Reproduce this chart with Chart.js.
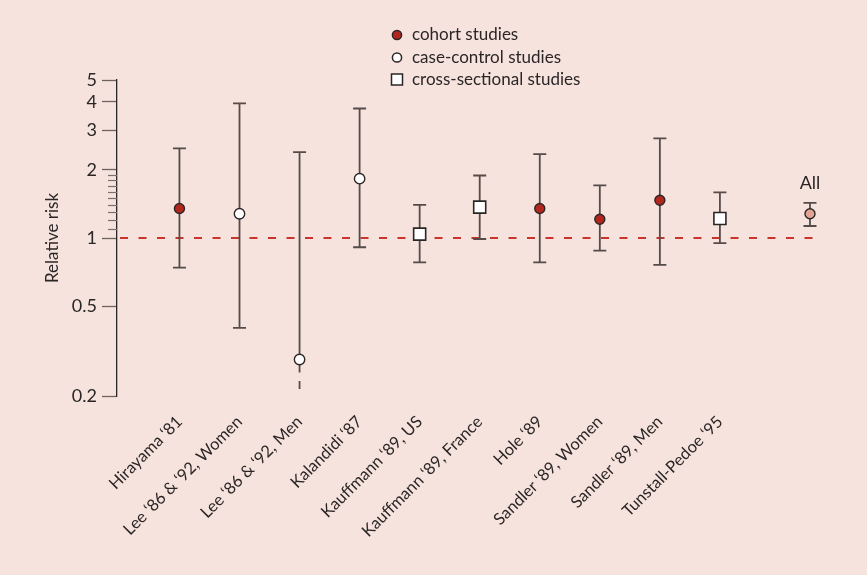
<!DOCTYPE html>
<html>
<head>
<meta charset="utf-8">
<script src="https://cdn.jsdelivr.net/npm/chart.js@4"></script>
<style>
  html, body { margin: 0; padding: 0; background: #f6e3dd; }
  #wrap { width: 867px; height: 575px; }
</style>
</head>
<body>
<div id="wrap"><canvas id="rrChart" width="867" height="575"></canvas></div>
<script>
// study names, in order along the x axis
const studies = [
  "Hirayama \u201881", "Lee \u201886 & \u201892, Women", "Lee \u201886 & \u201892, Men",
  "Kalandidi \u201887", "Kauffmann \u201889, US", "Kauffmann \u201889, France",
  "Hole \u201889", "Sandler \u201889, Women", "Sandler \u201889, Men", "Tunstall-Pedoe \u201895"
];
const studyType = ["cohort", "case", "case", "case", "cross", "cross", "cohort", "cohort", "cohort", "cross"];
const riskValues = [1.35, 1.28, 0.29, 1.83, 1.04, 1.37, 1.35, 1.21, 1.47, 1.22];
const riskUpper  = [2.49, 3.94, 2.40, 3.74, 1.40, 1.89, 2.35, 1.71, 2.76, 1.59];
const riskLower  = [0.74, 0.40, 0.215, 0.91, 0.78, 0.99, 0.78, 0.88, 0.76, 0.95];

// pooled estimate
const allPos = 11.5;
const allValue = 1.28;
const allUpper = 1.43;
const allLower = 1.13;

const yTicks = [0.2, 0.5, 1, 2, 3, 4, 5];
const yMinorTicks = [1.1, 1.2, 1.3, 1.4, 1.5, 1.6, 1.7, 1.8, 1.9];

const legendLabels = ["cohort studies", "case-control studies", "cross-sectional studies"];

const FONT = "Lato, 'Open Sans', sans-serif";
const INK = '#2b2626';
const BAR = '#564b4b';

function pointsOf(type) {
  const pts = [];
  studies.forEach((s, i) => {
    if (studyType[i] === type) {
      pts.push({ x: i + 1, y: riskValues[i], lo: riskLower[i], hi: riskUpper[i], broken: i === 2 });
    }
  });
  return pts;
}

// error bars, reference line, minor ticks, legend, "All" label
const extras = {
  id: 'extras',
  beforeDatasetsDraw(chart) {
    const { ctx, chartArea, scales: { x, y } } = chart;
    ctx.save();

    // dashed line at RR = 1
    ctx.strokeStyle = '#c9352c';
    ctx.lineWidth = 2;
    ctx.setLineDash([8, 10.5]);
    ctx.beginPath();
    ctx.moveTo(chartArea.left + 3, y.getPixelForValue(1));
    ctx.lineTo(chartArea.right, y.getPixelForValue(1));
    ctx.stroke();
    ctx.setLineDash([]);

    // minor ticks on y axis
    ctx.strokeStyle = '#7a6e6e';
    ctx.lineWidth = 1.2;
    yMinorTicks.forEach(v => {
      const py = Math.round(y.getPixelForValue(v)) + 0.5;
      ctx.beginPath();
      ctx.moveTo(chartArea.left - 9, py);
      ctx.lineTo(chartArea.left, py);
      ctx.stroke();
    });

    // whiskers
    ctx.strokeStyle = BAR;
    ctx.lineWidth = 1.8;
    chart.data.datasets.forEach(ds => {
      ds.data.forEach(p => {
        const px = x.getPixelForValue(p.x);
        const pHi = y.getPixelForValue(p.hi);
        const pLo = y.getPixelForValue(p.lo);
        const pMid = y.getPixelForValue(p.y);
        ctx.beginPath();
        ctx.moveTo(px, pHi);
        ctx.lineTo(px, pMid);
        ctx.moveTo(px - 6.5, pHi);
        ctx.lineTo(px + 6.5, pHi);
        if (p.broken) {
          ctx.moveTo(px, pMid);
          ctx.lineTo(px, pMid + 13);
          ctx.moveTo(px, pLo - 8);
          ctx.lineTo(px, pLo);
        } else {
          ctx.moveTo(px, pMid);
          ctx.lineTo(px, pLo);
          ctx.moveTo(px - 6.5, pLo);
          ctx.lineTo(px + 6.5, pLo);
        }
        ctx.stroke();
      });
    });
    ctx.restore();
  },
  afterDraw(chart) {
    const { ctx, scales: { x, y } } = chart;
    ctx.save();

    // "All" label
    ctx.fillStyle = INK;
    ctx.font = '18px ' + FONT;
    ctx.textAlign = 'center';
    ctx.textBaseline = 'middle';
    ctx.fillText('All', x.getPixelForValue(allPos), y.getPixelForValue(allUpper) - 20);

    // legend
    const lx = 397, ly = [35, 57.5, 79.5];
    ctx.lineWidth = 1.5;
    ctx.strokeStyle = INK;

    ctx.fillStyle = '#b3261e';
    ctx.beginPath(); ctx.arc(lx, ly[0], 4.6, 0, Math.PI * 2); ctx.fill(); ctx.stroke();
    ctx.fillStyle = '#ffffff';
    ctx.beginPath(); ctx.arc(lx, ly[1], 4.6, 0, Math.PI * 2); ctx.fill(); ctx.stroke();
    ctx.fillRect(lx - 5.5, ly[2] - 5.5, 11, 11);
    ctx.strokeRect(lx - 5.5, ly[2] - 5.5, 11, 11);

    ctx.fillStyle = INK;
    ctx.font = '17px ' + FONT;
    ctx.textAlign = 'left';
    legendLabels.forEach((t, i) => ctx.fillText(t, 412, ly[i]));
    ctx.restore();
  }
};

const ctx = document.getElementById('rrChart').getContext('2d');
new Chart(ctx, {
  type: 'scatter',
  data: {
    datasets: [
      {
        label: 'cohort studies',
        data: pointsOf('cohort'),
        pointStyle: 'circle',
        pointRadius: 5,
        backgroundColor: '#b3261e',
        borderColor: INK,
        borderWidth: 1.4
      },
      {
        label: 'case-control studies',
        data: pointsOf('case'),
        pointStyle: 'circle',
        pointRadius: 5.2,
        backgroundColor: '#ffffff',
        borderColor: INK,
        borderWidth: 1.4
      },
      {
        label: 'cross-sectional studies',
        data: pointsOf('cross'),
        pointStyle: 'rect',
        pointRadius: 8.5,
        backgroundColor: '#ffffff',
        borderColor: INK,
        borderWidth: 1.6
      },
      {
        label: 'All',
        data: [{ x: allPos, y: allValue, lo: allLower, hi: allUpper }],
        pointStyle: 'circle',
        pointRadius: 5,
        backgroundColor: '#e2a593',
        borderColor: INK,
        borderWidth: 1.4
      }
    ]
  },
  options: {
    responsive: false,
    animation: false,
    layout: { padding: { top: 80, right: 48, left: 42, bottom: 0 } },
    plugins: {
      legend: { display: false },
      tooltip: { enabled: false }
    },
    scales: {
      x: {
        type: 'linear',
        min: -0.04,
        max: 11.65,
        border: { display: false },
        grid: { display: false, drawTicks: false },
        afterBuildTicks: scale => {
          scale.ticks = studies.map((s, i) => ({ value: i + 1 }));
        },
        afterFit: scale => { scale.height = 179; },
        ticks: {
          autoSkip: false,
          minRotation: 45,
          maxRotation: 45,
          padding: 16,
          color: INK,
          font: { family: FONT, size: 16.5 },
          callback: v => studies[v - 1] || ''
        }
      },
      y: {
        type: 'logarithmic',
        min: 0.2,
        max: 5,
        border: { display: true, color: INK, width: 1.3 },
        grid: {
          drawOnChartArea: false,
          drawTicks: true,
          tickLength: 15,
          tickColor: '#6e6262',
          tickWidth: 1.3
        },
        afterBuildTicks: scale => {
          scale.ticks = yTicks.map(v => ({ value: v }));
        },
        afterFit: scale => { scale.width = 75; },
        title: {
          display: true,
          text: 'Relative risk',
          color: INK,
          font: { family: FONT, size: 17 },
          padding: { top: 0, bottom: 0 }
        },
        ticks: {
          padding: 5,
          color: INK,
          font: { family: FONT, size: 18 },
          callback: v => yTicks.includes(v) ? String(v) : ''
        }
      }
    }
  },
  plugins: [extras]
});
</script>
</body>
</html>
